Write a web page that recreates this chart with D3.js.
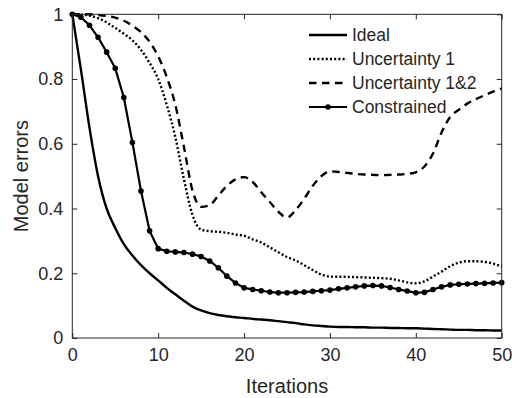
<!DOCTYPE html>
<html>
<head>
<meta charset="utf-8">
<script src="https://cdn.jsdelivr.net/npm/d3@7"></script>
<style>
  body { margin: 0; background: #fff; }
  text { font-family: "Liberation Sans", Arial, sans-serif; fill: #262626; }
</style>
</head>
<body>
<div id="chart"></div>
<script>
var iterations = d3.range(0, 51);
var ideal = [1.0, 0.83, 0.65, 0.50, 0.40, 0.34, 0.29, 0.255, 0.225, 0.20,
  0.178, 0.155, 0.135, 0.115, 0.097, 0.085, 0.077, 0.071, 0.067, 0.064,
  0.062, 0.059, 0.057, 0.055, 0.052, 0.049, 0.046, 0.042, 0.039, 0.037,
  0.035, 0.034, 0.034, 0.033, 0.033, 0.032, 0.032, 0.031, 0.031, 0.030,
  0.030, 0.029, 0.028, 0.027, 0.026, 0.025, 0.025, 0.024, 0.024, 0.023, 0.023];
var uncertainty1 = [1.0, 0.999, 0.996, 0.988, 0.975, 0.958, 0.94, 0.92, 0.89, 0.85,
  0.80, 0.72, 0.62, 0.49, 0.38, 0.335, 0.33, 0.328, 0.325, 0.32,
  0.316, 0.305, 0.295, 0.28, 0.265, 0.25, 0.24, 0.225, 0.21, 0.196,
  0.19, 0.189, 0.189, 0.188, 0.187, 0.186, 0.185, 0.183, 0.178, 0.172,
  0.169, 0.175, 0.19, 0.205, 0.222, 0.233, 0.237, 0.237, 0.235, 0.23, 0.22];
var uncertainty12 = [1.0, 1.0, 1.0, 0.998, 0.995, 0.99, 0.98, 0.965, 0.945, 0.915,
  0.87, 0.806, 0.72, 0.59, 0.455, 0.405, 0.41, 0.44, 0.47, 0.49,
  0.497, 0.482, 0.45, 0.42, 0.39, 0.372, 0.395, 0.43, 0.47, 0.50,
  0.515, 0.513, 0.51, 0.507, 0.505, 0.504, 0.503, 0.504, 0.505, 0.507,
  0.512, 0.53, 0.57, 0.635, 0.683, 0.705, 0.724, 0.738, 0.75, 0.761, 0.771];
var constrained = [1.0, 0.991, 0.966, 0.929, 0.883, 0.833, 0.743, 0.604, 0.454, 0.331,
  0.276, 0.268, 0.266, 0.264, 0.259, 0.252, 0.238, 0.217, 0.191, 0.170,
  0.155, 0.150, 0.146, 0.142, 0.140, 0.140, 0.141, 0.142, 0.144, 0.146,
  0.148, 0.152, 0.155, 0.158, 0.161, 0.162, 0.161, 0.156, 0.150, 0.145,
  0.140, 0.141, 0.150, 0.158, 0.164, 0.166, 0.167, 0.168, 0.169, 0.170, 0.171];
var seriesNames = ["Ideal", "Uncertainty 1", "Uncertainty 1&2", "Constrained"];
var xTicks = [0, 10, 20, 30, 40, 50];
var yTicks = [0, 0.2, 0.4, 0.6, 0.8, 1];

var width = 512, height = 398;
var plot = { left: 72.3, right: 501.7, top: 14.3, bottom: 338 };
var axisColor = "#262626";

var x = d3.scaleLinear().domain([0, 50]).range([plot.left, plot.right]);
var y = d3.scaleLinear().domain([0, 1]).range([plot.bottom, plot.top]);

var svg = d3.select("#chart").append("svg")
    .attr("width", width)
    .attr("height", height);

var series = [
  { name: seriesNames[0], values: ideal, dash: null, width: 2.4, curve: d3.curveMonotoneX, markers: false },
  { name: seriesNames[1], values: uncertainty1, dash: "2,2.2", width: 2.4, curve: d3.curveMonotoneX, markers: false },
  { name: seriesNames[2], values: uncertainty12, dash: "7.5,5.5", width: 2.4, curve: d3.curveMonotoneX, markers: false },
  { name: seriesNames[3], values: constrained, dash: null, width: 2.2, curve: d3.curveLinear, markers: true }
];

var lines = svg.append("g").attr("class", "lines");
series.forEach(function(s) {
  var line = d3.line()
      .x(function(d, i) { return x(iterations[i]); })
      .y(function(d) { return y(d); })
      .curve(s.curve);
  lines.append("path")
      .datum(s.values)
      .attr("fill", "none")
      .attr("stroke", "#000")
      .attr("stroke-width", s.width)
      .attr("stroke-dasharray", s.dash)
      .attr("stroke-linejoin", "round")
      .attr("d", line);
  if (s.markers) {
    lines.append("g").selectAll("circle")
        .data(s.values)
        .enter().append("circle")
        .attr("cx", function(d, i) { return x(iterations[i]); })
        .attr("cy", function(d) { return y(d); })
        .attr("r", 2.8)
        .attr("fill", "#000");
  }
});

// axes box with inward ticks (top/right mirror)
var axes = svg.append("g").attr("class", "axes");
axes.append("rect")
    .attr("x", plot.left).attr("y", plot.top)
    .attr("width", plot.right - plot.left)
    .attr("height", plot.bottom - plot.top)
    .attr("fill", "none")
    .attr("stroke", axisColor)
    .attr("stroke-width", 1);

var xAxis = d3.axisBottom(x).tickValues(xTicks).tickSizeInner(-5).tickSizeOuter(0).tickPadding(10);
var xAxisTop = d3.axisTop(x).tickValues(xTicks).tickSizeInner(-5).tickSizeOuter(0).tickFormat("");
var yAxis = d3.axisLeft(y).tickValues(yTicks).tickSizeInner(-5).tickSizeOuter(0).tickPadding(9)
    .tickFormat(function(d) { return d === 0 || d === 1 ? d3.format("d")(d) : d3.format(".1f")(d); });
var yAxisRight = d3.axisRight(y).tickValues(yTicks).tickSizeInner(-5).tickSizeOuter(0).tickFormat("");

function styleAxis(g) {
  g.select(".domain").remove();
  g.selectAll(".tick line").attr("stroke", axisColor);
  g.selectAll(".tick text")
      .attr("fill", axisColor)
      .style("font-size", "18px")
      .style("font-family", "'Liberation Sans', Arial, sans-serif");
}

axes.append("g").attr("transform", "translate(0," + plot.bottom + ")").call(xAxis).call(styleAxis);
axes.append("g").attr("transform", "translate(0," + plot.top + ")").call(xAxisTop).call(styleAxis);
axes.append("g").attr("transform", "translate(" + plot.left + ",0)").call(yAxis).call(styleAxis);
axes.append("g").attr("transform", "translate(" + plot.right + ",0)").call(yAxisRight).call(styleAxis);

svg.append("text")
    .attr("x", (plot.left + plot.right) / 2)
    .attr("y", 393)
    .attr("text-anchor", "middle")
    .style("font-size", "20px")
    .text("Iterations");

svg.append("text")
    .attr("transform", "translate(28," + ((plot.top + plot.bottom) / 2) + ") rotate(-90)")
    .attr("text-anchor", "middle")
    .style("font-size", "20px")
    .text("Model errors");

// legend
var legend = svg.append("g").attr("class", "legend");
var legendY = [35, 59, 83, 107];
series.forEach(function(s, i) {
  var g = legend.append("g").attr("transform", "translate(0," + legendY[i] + ")");
  g.append("line")
      .attr("x1", 309).attr("x2", 347)
      .attr("y1", 0).attr("y2", 0)
      .attr("stroke", "#000")
      .attr("stroke-width", s.width)
      .attr("stroke-dasharray", s.dash);
  if (s.markers) {
    g.append("circle").attr("cx", 328).attr("cy", 0).attr("r", 2.8).attr("fill", "#000");
  }
  g.append("text")
      .attr("x", 352)
      .attr("y", 0)
      .attr("dy", "0.35em")
      .style("font-size", "17.5px")
      .text(s.name);
});
</script>
</body>
</html>
